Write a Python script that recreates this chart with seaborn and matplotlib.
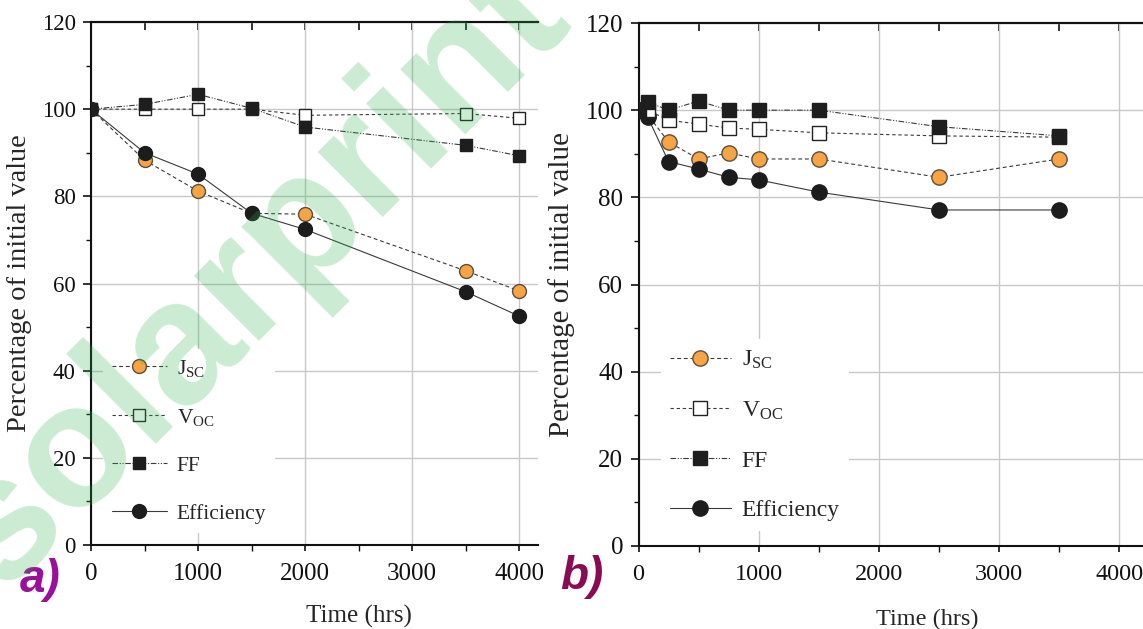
import matplotlib
matplotlib.use("Agg")
import matplotlib.pyplot as plt
import seaborn as sns
from matplotlib.ticker import MultipleLocator

# ---------------- data ----------------
# panel a)
time_a = [0, 500, 1000, 1500, 2000, 3500, 4000]
jsc_a = [100, 88.3, 81.2, 76.1, 75.9, 62.9, 58.3]
voc_a = [100, 100, 100, 100, 98.6, 99.0, 97.9]
ff_a = [100, 101.1, 103.4, 100.2, 95.9, 91.7, 89.3]
eff_a = [100, 90.0, 85.1, 76.1, 72.4, 58.1, 52.5]

# panel b)
time_b = [0, 75, 250, 500, 750, 1000, 1500, 2500, 3500]
jsc_b = [100, 99.0, 92.7, 88.8, 90.2, 88.8, 88.8, 84.6, 88.8]
voc_b = [100, 100, 97.7, 96.8, 95.9, 95.6, 94.8, 94.1, 93.8]
ff_b = [100, 101.9, 100, 102.1, 100, 100, 100, 96.2, 94.1]
eff_b = [100, 98.5, 88.2, 86.5, 84.6, 84.0, 81.2, 77.1, 77.1]

series_labels = [r'J$_{\mathrm{SC}}$', r'V$_{\mathrm{OC}}$', 'FF', 'Efficiency']
x_label = 'Time (hrs)'
y_label = 'Percentage of initial value'
panel_tags = ['a)', 'b)']
watermark = 'solarprint'

# ---------------- style ----------------
sns.set_style('ticks')
plt.rcParams['font.family'] = ['Liberation Serif', 'DejaVu Serif']
plt.rcParams['mathtext.fontset'] = 'custom'
plt.rcParams['mathtext.rm'] = 'Liberation Serif'
plt.rcParams['mathtext.it'] = 'Liberation Serif:italic'
plt.rcParams['mathtext.bf'] = 'Liberation Serif:bold'

W, H = 1143, 629
fig = plt.figure(figsize=(W / 100, H / 100), dpi=100)
fig.patch.set_facecolor('white')

def fx(px):
    return px / W

def fy(py):
    return 1 - py / H

ax_a = fig.add_axes([fx(91), fy(545), fx(537.5 - 91), (545 - 22) / H])
ax_b = fig.add_axes([fx(638.5), fy(546), fx(1143 - 638.5), (546 - 23) / H])

line_col = '#3a3a3a'
styles = [
    dict(marker='o', markerfacecolor='#F6A444', markeredgecolor='#5a5040', linestyle=(0, (3.5, 2.5)), zorder=3),
    dict(marker='s', markerfacecolor='white', markeredgecolor='#222222', linestyle=(0, (3.0, 2.5)), zorder=4),
    dict(marker='s', markerfacecolor='#1e1e1e', markeredgecolor='#1e1e1e', linestyle=(0, (5, 1.5, 1, 1.5, 1, 1.5)), zorder=5),
    dict(marker='o', markerfacecolor='#1c1c1c', markeredgecolor='#1c1c1c', linestyle='-', zorder=3.5),
]


def draw(ax, t, series, xmax, fs_xt, fs_yt, fs_ylab, ms_c, ms_s, leg_anchor, leg_fs,
         leg_sp, xlab_x, xlab_pad, ylab_pad):
    handles = []
    for vals, st in zip(series, styles):
        ms = ms_c if st['marker'] == 'o' else ms_s
        sns.lineplot(x=t, y=vals, ax=ax, color=line_col, lw=0.8, markersize=ms,
                     markeredgewidth=1.0, legend=False, errorbar=None, **st)
        handles.append(ax.lines[-1])
    ax.set_xlim(0, xmax)
    ax.set_ylim(0, 120)
    ax.xaxis.set_major_locator(MultipleLocator(1000))
    ax.xaxis.set_minor_locator(MultipleLocator(500))
    ax.yaxis.set_major_locator(MultipleLocator(20))
    ax.yaxis.set_minor_locator(MultipleLocator(10))
    ax.grid(True, which='major', color='#c8c8c8', lw=1.0)
    ax.set_axisbelow(True)
    for s in ['left', 'bottom', 'top']:
        ax.spines[s].set_linewidth(1.5)
        ax.spines[s].set_color('#111111')
    ax.spines['right'].set_visible(False)
    ax.tick_params(axis='y', which='major', direction='out', length=6, width=1.2,
                   labelsize=fs_yt, pad=5, colors='#111111')
    ax.tick_params(axis='y', which='minor', direction='out', length=3.5, width=1.0, colors='#111111')
    ax.tick_params(axis='x', which='major', direction='out', length=4, width=1.2,
                   labelsize=fs_xt, pad=9, colors='#111111')
    ax.tick_params(axis='x', which='minor', direction='out', length=4, width=1.0, colors='#111111')
    sec = ax.secondary_xaxis('top')
    sec.xaxis.set_major_locator(MultipleLocator(500))
    sec.tick_params(axis='x', direction='in', length=6, width=1.2, labeltop=False, colors='#111111')
    sec.spines['top'].set_linewidth(1.5)
    ax.set_xlabel(x_label, fontsize=fs_xt, x=xlab_x, labelpad=xlab_pad)
    ax.set_ylabel(y_label, fontsize=fs_ylab, labelpad=ylab_pad)
    ax.legend(handles, series_labels, loc='center left', bbox_to_anchor=leg_anchor,
              frameon=True, facecolor='white', edgecolor='none', framealpha=1,
              fancybox=False, fontsize=leg_fs, handlelength=2.56, handletextpad=0.47,
              labelspacing=leg_sp, borderpad=0.4, borderaxespad=0, numpoints=1)


draw(ax_a, time_a, [jsc_a, voc_a, ff_a, eff_a], 4170, 18, 16.5, 20.5, 10, 9,
     (0.027, 0.199), 15.5, 1.3, 0.6, 14, 7)
draw(ax_b, time_b, [jsc_b, voc_b, ff_b, eff_b], 4197, 17.5, 18, 21, 11, 10,
     (0.044, 0.212), 17, 1.2, 0.572, 17, 8)

fig.text(fx(40), fy(580), panel_tags[0], color='#9b109b', fontsize=33, style='italic',
         weight='bold', family='Liberation Sans', ha='center', va='center')
fig.text(fx(582), fy(577), panel_tags[1], color='#8a0b52', fontsize=33, style='italic',
         weight='bold', family='Liberation Sans', ha='center', va='center')

fig.text(fx(2), fy(592), watermark, fontsize=126, rotation=45, rotation_mode='anchor',
         color='#2db34a', alpha=0.25, ha='left', va='baseline', weight='bold',
         family='Liberation Sans', zorder=20)

fig.savefig('out.png', dpi=100, facecolor='white')
